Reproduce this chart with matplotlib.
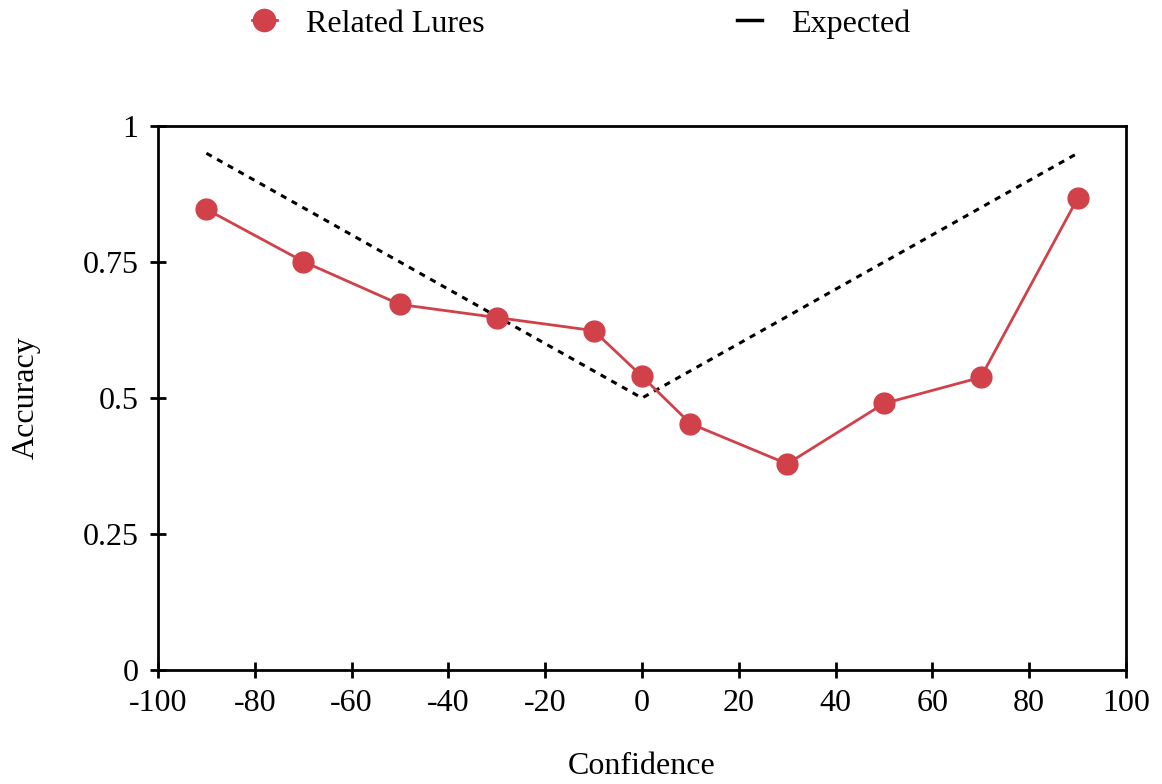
import matplotlib.pyplot as plt
from matplotlib.lines import Line2D

plt.rcParams['font.family'] = ['Liberation Serif', 'DejaVu Serif']

# Dados
confianca = [-90, -70, -50, -30, -10, 0, 10, 30, 50, 70, 90]
acuracia = [0.847, 0.751, 0.672, 0.648, 0.624, 0.540, 0.453, 0.379, 0.490, 0.538, 0.867]
esperado_x = [-90, 0, 90]
esperado_y = [0.95, 0.5, 0.95]

yticks = [0, 0.25, 0.5, 0.75, 1]
ytick_labels = ["0", "0.25", "0.5", "0.75", "1"]
xticks = list(range(-100, 101, 20))

vermelho = "#D0414A"

fig = plt.figure(figsize=(11.62, 7.84), dpi=100)
ax = fig.add_axes([0.136, 0.1454, 0.833, 0.6938])

ax.plot(esperado_x, esperado_y, color="black", linestyle=(0, (2, 2)), linewidth=2.2)
ax.plot(confianca, acuracia, color=vermelho, linewidth=2, marker="o", markersize=15)

ax.set_xlim(-100, 100)
ax.set_ylim(0, 1)
ax.set_xticks(xticks)
ax.set_xticklabels([str(v) for v in xticks])
ax.set_yticks(yticks)
ax.set_yticklabels(ytick_labels)
ax.tick_params(direction="inout", length=12, width=2, labelsize=23, pad=8)
for s in ax.spines.values():
    s.set_linewidth(2)

ax.set_xlabel("Confidence", fontsize=23, labelpad=24)
ax.set_ylabel("Accuracy", fontsize=23, labelpad=30)

handles = [
    Line2D([], [], color=vermelho, marker="o", markersize=16, linewidth=2),
    Line2D([], [], color="black", linewidth=2.5),
]
fig.legend(handles, ["Related Lures", "Expected"], loc="upper center",
           bbox_to_anchor=(0.5, 1.025), ncol=2, frameon=False, fontsize=23,
           handlelength=0.8, columnspacing=7.9, handletextpad=0.9)

plt.savefig("out.png", dpi=100)
